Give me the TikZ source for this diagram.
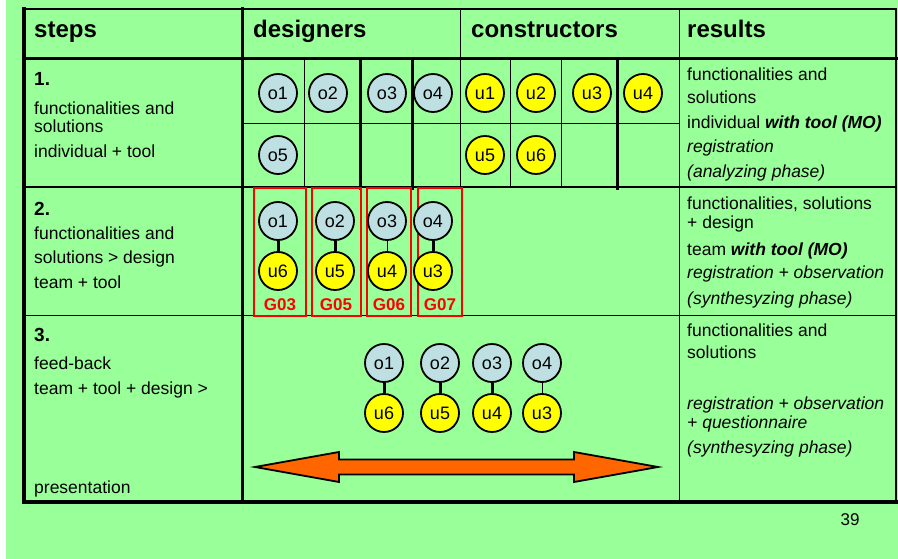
\documentclass[tikz,border=0pt]{standalone}
\usepackage{fontspec}
\setmainfont{Liberation Sans}
\definecolor{bg}{HTML}{99FF99}
\definecolor{oblue}{HTML}{BFE0E3}
\definecolor{uyel}{HTML}{FFFF00}
\definecolor{arrowor}{HTML}{FF6600}
\definecolor{grpred}{HTML}{FF0000}
\tikzset{
  txt/.style={anchor=base west, inner sep=0pt, font=\fontsize{17.5}{20}\selectfont},
  itx/.style={txt, font=\fontsize{17.5}{20}\selectfont\itshape},
  num/.style={anchor=base west, inner sep=0pt, font=\fontsize{19}{22}\selectfont\bfseries},
  hdr/.style={anchor=base west, inner sep=0pt, font=\fontsize{24}{28}\selectfont\bfseries},
  person/.style={circle, draw=black, line width=1.8pt, minimum size=38pt, inner sep=0pt, font=\fontsize{18}{20}\selectfont},
  ocirc/.style={person, fill=oblue},
  ucirc/.style={person, fill=uyel},
  linkthick/.style={line width=3pt},
  linkthin/.style={line width=1pt},
  grpbox/.style={draw=grpred, line width=2.5pt},
  grplabel/.style={anchor=base, inner sep=0pt, text=grpred, font=\fontsize{17}{19}\selectfont\bfseries},
  rule/.style={line cap=rect},
}
\begin{document}
\begin{tikzpicture}[x=1pt,y=-1pt]
\useasboundingbox (0,0) rectangle (898,559);
\fill[white] (0,0) rectangle (898,559);
\fill[bg] (6,0) rectangle (898,559);

% ---------- table rules ----------
\draw[rule, line width=1pt] (242,124) -- (679,124);
\foreach \x in {304,510,561} \draw[rule, line width=1pt] (\x,59) -- (\x,188);
\foreach \x in {360,412,617} \draw[rule, line width=3pt] (\x,59) -- (\x,189);
\draw[rule, line width=1pt] (460,9) -- (460,187);
\draw[rule, line width=1pt] (679,9) -- (679,502);
\draw[rule, line width=1pt] (24,315) -- (896,315);
\draw[rule, line width=1.5pt] (24,187) -- (896,187);
\draw[rule, line width=3pt] (24,59) -- (896,59);
\draw[rule, line width=3pt] (242,9) -- (242,502);
\draw[rule, line width=2.5pt] (24,9) -- (896,9);
\draw[rule, line width=2pt] (896,9) -- (896,502);
\draw[rule, line width=3.5pt] (24,502) -- (896,502);
\draw[rule, line width=4.5pt] (24,9) -- (24,502);

% ---------- header ----------
\node[hdr] (hsteps) at (34,38) {steps};
\node[hdr] (hdes) at (253,38) {designers};
\node[hdr] (hcon) at (471,38) {constructors};
\node[hdr] (hres) at (687,38) {results};

% ---------- step column ----------
\node[num] (n1) at (34,86) {1.};
\node[txt] (s1a) at (34,115) {functionalities and};
\node[txt] (s1b) at (34,133) {solutions};
\node[txt] (s1c) at (34,158) {individual + tool};

\node[num] (n2) at (34,215) {2.};
\node[txt] (s2a) at (34,240) {functionalities and};
\node[txt] (s2b) at (34,263) {solutions > design};
\node[txt] (s2c) at (34,288) {team + tool};

\node[num] (n3) at (34,341) {3.};
\node[txt] (s3a) at (34,369) {feed-back};
\node[txt] (s3b) at (34,394) {team + tool + design >};
\node[txt] (s3c) at (34,493) {presentation};

% ---------- results column ----------
\node[txt] (r1a) at (687,81) {functionalities and};
\node[txt] (r1b) at (687,104) {solutions};
\node[txt] (r1c) at (687,129) {individual \textbf{\textit{with tool (MO)}}};
\node[itx] (r1d) at (687,153) {registration};
\node[itx] (r1e) at (687,178) {(analyzing phase)};

\node[txt] (r2a) at (687,210) {functionalities, solutions};
\node[txt] (r2b) at (687,229) {+ design};
\node[txt] (r2c) at (687,255) {team \textbf{\textit{with tool (MO)}}};
\node[itx] (r2d) at (687,279) {registration + observation};
\node[itx] (r2e) at (687,304) {(synthesyzing phase)};

\node[txt] (r3a) at (687,336) {functionalities and};
\node[txt] (r3b) at (687,358) {solutions};
\node[itx] (r3c) at (687,409) {registration + observation};
\node[itx] (r3d) at (687,428) {+ questionnaire};
\node[itx] (r3e) at (687,453) {(synthesyzing phase)};

% ---------- step 1: individuals ----------
\node[ocirc] (a1) at (278,93) {o1};
\node[ocirc] (a2) at (328,93) {o2};
\node[ocirc] (a3) at (387,93) {o3};
\node[ocirc] (a4) at (433,93) {o4};
\node[ocirc] (a5) at (278,155) {o5};
\node[ucirc] (b1) at (485,93) {u1};
\node[ucirc] (b2) at (536,93) {u2};
\node[ucirc] (b3) at (592,93) {u3};
\node[ucirc] (b4) at (643,93) {u4};
\node[ucirc] (b5) at (485,155) {u5};
\node[ucirc] (b6) at (536,155) {u6};

% ---------- step 2: design groups ----------
\draw[grpbox] (254,188) rectangle (306,316);
\draw[grpbox] (312,188) rectangle (361,316);
\draw[grpbox] (367,188) rectangle (411,316);
\draw[grpbox] (418,188) rectangle (462,316);

\node[ocirc] (c1) at (278,221) {o1};
\node[ocirc] (c2) at (335,221) {o2};
\node[ocirc] (c3) at (387,221) {o3};
\node[ocirc] (c4) at (433,221) {o4};
\node[ucirc] (d6) at (278,271) {u6};
\node[ucirc] (d5) at (335,271) {u5};
\node[ucirc] (d4) at (387,271) {u4};
\node[ucirc] (d3) at (433,271) {u3};
\draw[linkthick] (c1) -- (d6);
\draw[linkthick] (c2) -- (d5);
\draw[linkthin] (c3) -- (d4);
\draw[linkthick] (c4) -- (d3);

\node[grplabel] (g03) at (280,310) {G03};
\node[grplabel] (g05) at (336,310) {G05};
\node[grplabel] (g06) at (389,310) {G06};
\node[grplabel] (g07) at (440,310) {G07};

% ---------- step 3: feed-back ----------
\node[ocirc] (e1) at (384,363) {o1};
\node[ocirc] (e2) at (440,363) {o2};
\node[ocirc] (e3) at (492,363) {o3};
\node[ocirc] (e4) at (542,363) {o4};
\node[ucirc] (f6) at (384,413) {u6};
\node[ucirc] (f5) at (440,413) {u5};
\node[ucirc] (f4) at (492,413) {u4};
\node[ucirc] (f3) at (542,413) {u3};
\draw[linkthick] (e1) -- (f6);
\draw[linkthick] (e2) -- (f5);
\draw[linkthick] (e3) -- (f4);
\draw[linkthin] (e4) -- (f3);

% double-headed presentation arrow
\draw[fill=arrowor, line width=1.8pt, line join=miter]
  (255,467) -- (339,452) -- (339,459.5) -- (574,459.5) -- (574,452) -- (658,467)
  -- (574,482) -- (574,474.5) -- (339,474.5) -- (339,482) -- cycle;

% page number
\node[anchor=base, inner sep=0pt, font=\fontsize{17}{19}\selectfont] (pg) at (850,525) {39};
\end{tikzpicture}
\end{document}
